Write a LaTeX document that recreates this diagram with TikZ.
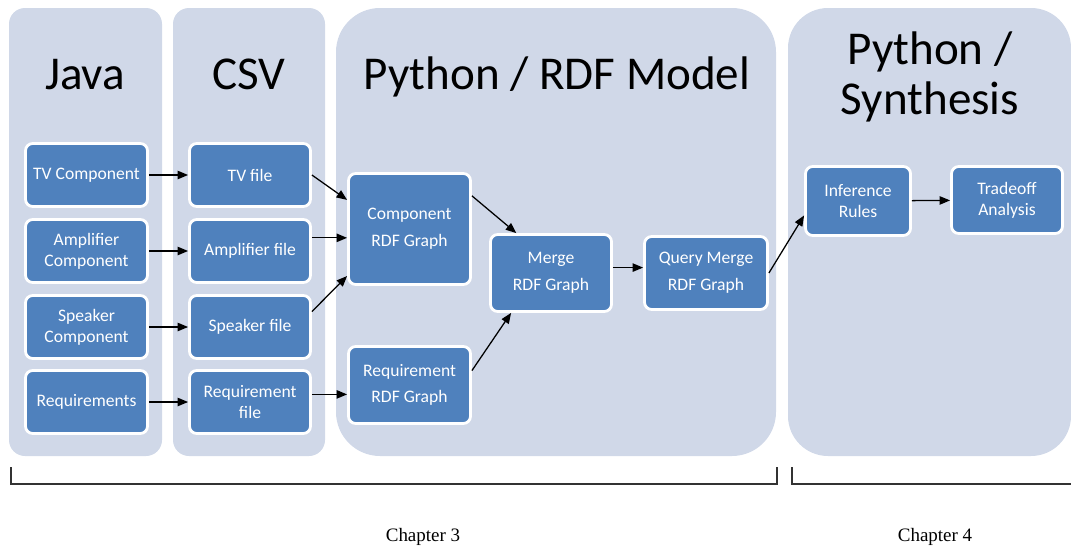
\documentclass[tikz,border=0pt]{standalone}
\usepackage{fontspec}
\setmainfont{Carlito}
\newfontfamily\chapfont{Liberation Serif}
\usetikzlibrary{arrows.meta}
\definecolor{panelblue}{HTML}{D0D8E8}
\definecolor{boxblue}{HTML}{4F81BD}
\tikzset{boxsize/.style 2 args={minimum width={#1*0.025cm}, minimum height={#2*0.025cm}}}

\begin{document}
\begin{tikzpicture}[x=0.025cm, y=-0.025cm,
    panel/.style={fill=panelblue},
    procbox/.style={draw=white, fill=boxblue, line width=2pt, rounded corners=0.18cm,
        inner sep=0pt, align=center, text=white, font=\fontsize{12.5}{15}\selectfont},
    widebox/.style={procbox, font=\fontsize{12.5}{19}\selectfont},
    title/.style={anchor=base, font=\fontsize{33.5}{35}\selectfont},
    flow/.style={-{Triangle[length=7.5pt,width=6pt]}, line width=0.9pt},
    chapline/.style={line width=0.8pt, black!80},
    chapter/.style={anchor=base, font=\chapfont\fontsize{13.5}{15}\selectfont}]

    \useasboundingbox (0,0) rectangle (1071,546);

    % Panels
    \fill[panel, rounded corners=0.4cm] (9,8) rectangle (162,456);
    \fill[panel, rounded corners=0.4cm] (173,8) rectangle (325,456);
    \fill[panel, rounded corners=1.1cm] (336,8) rectangle (776,456);
    \fill[panel, rounded corners=1.0cm] (788,8) rectangle (1071,456);

    % Titles
    \node[title] (java) at (85,89) {Java};
    \node[title] (csv) at (249,89) {CSV};
    \node[title] (rdf) at (557,89) {Python / RDF Model};
    \node[title, anchor=center, align=center] (synth) at (930,77) {Python /\\Synthesis};

    % Java and CSV columns
    \foreach \jname/\jtxt/\cname/\ctxt/\y in {
        tvc/TV Component/tvf/TV file/175,
        ampc/Amplifier\\Component/ampf/Amplifier file/251,
        spkc/Speaker\\Component/spkf/Speaker file/327,
        reqc/Requirements/reqf/Requirement\\file/402} {
        \node[procbox, boxsize={122}{63}] (\jname) at (86.5,\y) {\jtxt};
        \node[procbox, boxsize={121}{63}] (\cname) at (250,\y) {\ctxt};
        \draw[flow] (\jname) -- (\cname);
    }

    % Python / RDF model
    \node[widebox, boxsize={122}{111}] (comp) at (409.5,229) {Component\\RDF Graph};
    \node[widebox, boxsize={122}{77}] (reqg) at (409.5,385) {Requirement\\RDF Graph};
    \node[widebox, boxsize={121}{77}] (merge) at (551,273) {Merge\\RDF Graph};
    \node[widebox, boxsize={123}{73}] (query) at (706,273) {Query Merge\\RDF Graph};

    % Python / Synthesis
    \node[procbox, boxsize={105}{69}] (infer) at (858,201) {Inference\\Rules};
    \node[procbox, boxsize={111}{67}] (trade) at (1007,200) {Tradeoff\\Analysis};

    % Connectors
    \draw[flow] (tvf.east) -- (comp.155);
    \draw[flow] (ampf.12) -- (ampf.12 -| comp.west);
    \draw[flow] (spkf.14) -- (comp.217);
    \draw[flow] (reqf.7) -- (reqf.7 -| reqg.west);
    \draw[flow] (comp.28) -- (merge.131);
    \draw[flow] (reqg.13) -- (merge.225);
    \draw[flow] (merge.5) -- (merge.5 -| query.west);
    \draw[flow] (query.east) -- (infer.195);
    \draw[flow] (infer) -- (trade);

    % Chapter brackets
    \draw[chapline] (11,467) -- (11,484) -- (777,484) -- (777,467);
    \draw[chapline] (792,467) -- (792,484) -- (1071,484);
    \node[chapter] (ch3) at (423,541) {Chapter 3};
    \node[chapter] (ch4) at (935,541) {Chapter 4};

\end{tikzpicture}
\end{document}
